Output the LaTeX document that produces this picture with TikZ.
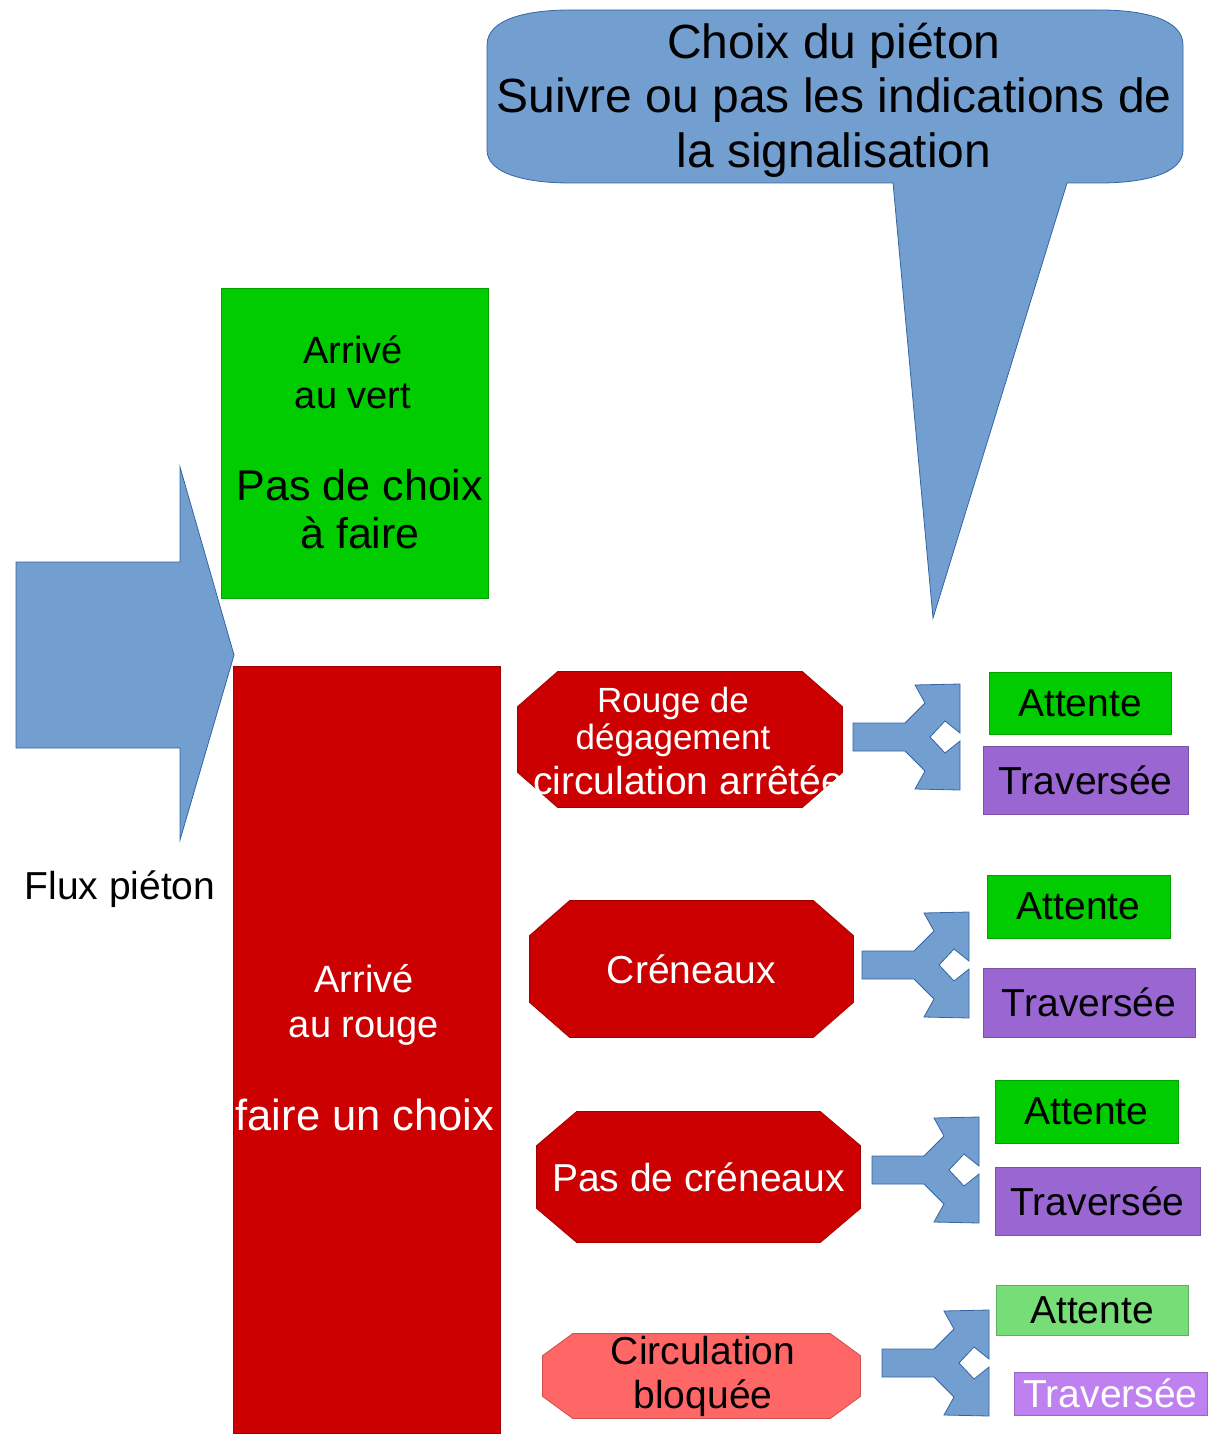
\documentclass[tikz,border=0pt]{standalone}
\usepackage{fontspec}
\setmainfont{Liberation Sans}

\definecolor{bleu}{RGB}{114,159,207}
\definecolor{bleubord}{RGB}{52,101,164}
\definecolor{vertvif}{RGB}{0,204,0}
\definecolor{rougefonce}{RGB}{204,0,0}
\definecolor{violet}{RGB}{153,102,210}
\definecolor{vertclair}{RGB}{119,221,119}
\definecolor{rougeclair}{RGB}{255,102,102}
\definecolor{violetclair}{RGB}{191,129,240}

% octogone autour d'un noeud vide : couleur, noeud, coupe x, coupe y
\newcommand{\octogone}[4]{%
  \filldraw[fill=#1, draw=#1!80!black] ([xshift=#3]#2.north west) -- ([xshift=-#3]#2.north east)
    -- ([yshift=-#4]#2.north east) -- ([yshift=#4]#2.south east) -- ([xshift=-#3]#2.south east)
    -- ([xshift=#3]#2.south west) -- ([yshift=#4]#2.south west) -- ([yshift=-#4]#2.north west) -- cycle;}

\begin{document}
\begin{tikzpicture}[x=0.5pt, y=-0.5pt,
    police/.style ={font=\fontsize{19.5}{23}\selectfont, align=center, inner sep=0pt},
    boite/.style ={rectangle, fill=#1, draw=#1!80!black, police},
    cadre/.style ={rectangle, inner sep=0pt},
    fourche/.pic ={\filldraw[fill=bleu, draw=bleubord] (0,-14) -- (52,-14) -- (72,-34)
        -- (62,-52) -- (107,-53) -- (107,-4) -- (92,-16) -- (77,0) -- (92,16)
        -- (107,4) -- (107,53) -- (62,52) -- (72,34) -- (52,14) -- (0,14) -- cycle;}]
   \useasboundingbox (0,0) rectangle (1209,1438);

   % bulle du haut
   \filldraw[fill=bleu, draw=bleubord] (487,45) .. controls (487,18) and (530,10) .. (570,10)
      -- (1100,10) .. controls (1140,10) and (1183,18) .. (1183,45) -- (1183,150)
      .. controls (1183,175) and (1140,183) .. (1100,183) -- (1067,183) -- (933,618)
      -- (893,183) -- (570,183) .. controls (530,183) and (487,175) .. (487,150) -- cycle;
   \node[font=\fontsize{24}{27.25}\selectfont, align=center] (bulle) at (834,100)
      {Choix du piéton\\Suivre ou pas les indications de\\la signalisation};

   % fleche du flux
   \filldraw[fill=bleu, draw=bleubord] (16,562) -- (180,562) -- (180,467) -- (234,655)
      -- (180,840) -- (180,748) -- (16,748) -- cycle;
   \node[police] (flux) at (120,889) {Flux piéton};

   % arrivees
   \node[boite=vertvif, minimum width=133.5pt, minimum height=155pt] (vert) at (354.5,443) {};
   \node[police, font=\fontsize{19}{22.5}\selectfont] (vert-a) at (353,372) {Arrivé\\au vert};
   \node[police, font=\fontsize{21.5}{24}\selectfont] (vert-b) at (360,509) {Pas de choix\\à faire};
   \node[boite=rougefonce, minimum width=133.5pt, minimum height=383.5pt] (rouge) at (366.5,1049.5) {};
   \node[police, white, font=\fontsize{19}{22.5}\selectfont] (rouge-a) at (364,1005) {Arrivé\\au rouge};
   \node[police, white, font=\fontsize{21.75}{24}\selectfont] (rouge-b) at (365,1115) {faire un choix};

   % situations
   \node[cadre, minimum width=162pt, minimum height=67.5pt] (oct1) at (680,739.5) {};
   \octogone{rougefonce}{oct1}{20pt}{17.5pt}
   \node[police, white, font=\fontsize{17.5}{18.5}\selectfont] (oct1-a) at (673,722) {Rouge de\\dégagement};
   \node[police, white] (oct1-b) at (688,780) {circulation arrêtée};
   \node[cadre, minimum width=161.5pt, minimum height=68pt] (oct2) at (691.5,969) {};
   \octogone{rougefonce}{oct2}{20pt}{17.5pt}
   \node[police, white] (oct2-a) at (oct2) {Créneaux};
   \node[cadre, minimum width=161.5pt, minimum height=65pt] (oct3) at (698.5,1177) {};
   \octogone{rougefonce}{oct3}{20pt}{17pt}
   \node[police, white] (oct3-a) at (oct3) {Pas de créneaux};
   \node[cadre, minimum width=158.5pt, minimum height=42pt] (oct4) at (701.5,1376) {};
   \octogone{rougeclair}{oct4}{15pt}{11pt}
   \node[police, font=\fontsize{19.5}{22}\selectfont] (oct4-a) at (703,1376) {Circulation\\bloquée};

   % choix
   \pic at (853,737) {fourche};
   \pic at (862,965) {fourche};
   \pic at (872,1170) {fourche};
   \pic at (882,1363) {fourche};

   \node[boite=vertvif, minimum width=91pt, minimum height=31pt] (att1) at (1080,703) {Attente};
   \node[boite=violet, minimum width=102.5pt, minimum height=34pt] (tra1) at (1085.5,780) {Traversée};
   \node[boite=vertvif, minimum width=91.5pt, minimum height=31.5pt] (att2) at (1078.5,906.5) {Attente};
   \node[boite=violet, minimum width=106pt, minimum height=34.5pt] (tra2) at (1089,1002.5) {Traversée};
   \node[boite=vertvif, minimum width=91.5pt, minimum height=31.5pt] (att3) at (1086.5,1111.5) {Attente};
   \node[boite=violet, minimum width=102.5pt, minimum height=34pt] (tra3) at (1097.5,1201) {Traversée};
   \node[boite=vertclair, minimum width=96pt, minimum height=25pt] (att4) at (1092,1310) {Attente};
   \node[boite=violetclair, text=white, minimum width=96.5pt, minimum height=21.5pt] (tra4) at (1110.5,1393.5) {Traversée};
\end{tikzpicture}
\end{document}
